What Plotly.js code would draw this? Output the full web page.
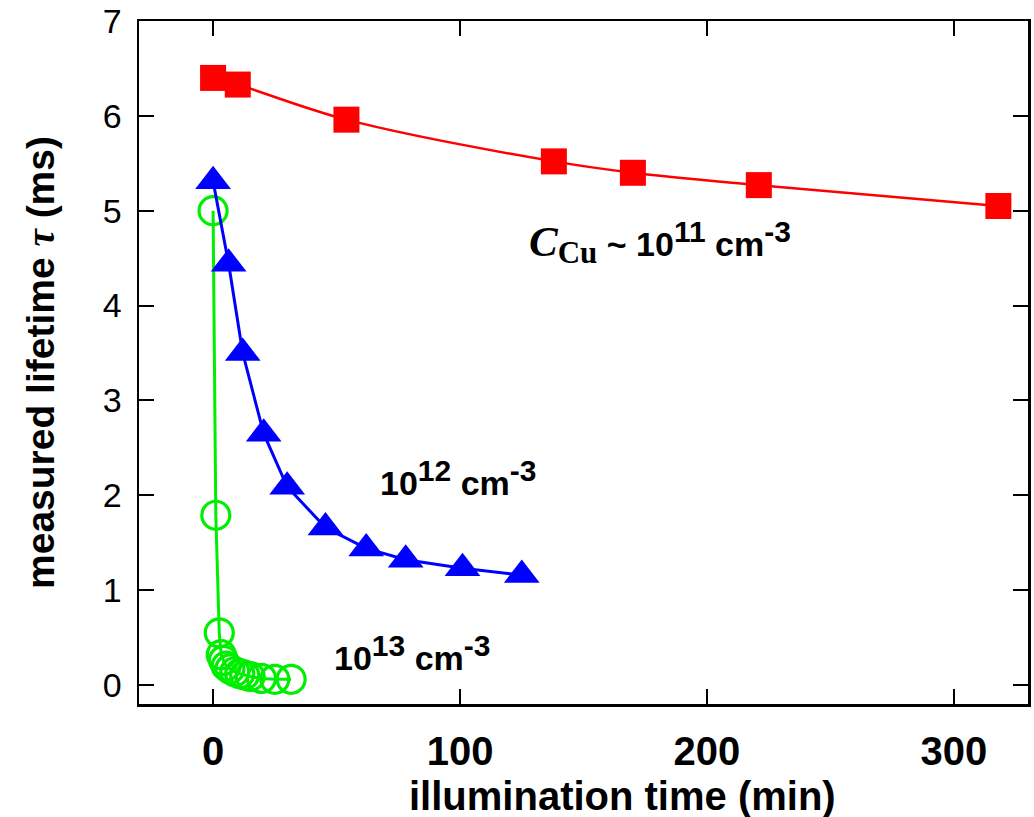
<!DOCTYPE html>
<html>
<head>
<meta charset="utf-8">
<script src="https://cdn.plot.ly/plotly-3.0.1.min.js"></script>
<style>html,body{margin:0;padding:0;background:#fff;}</style>
</head>
<body>
<div id="chart" style="width:1034px;height:817px;"></div>
<script>
// Cu ~ 1e11 cm^-3
const redX = [0, 10, 54, 138, 170, 221, 318];
const redY = [6.40, 6.33, 5.96, 5.52, 5.40, 5.27, 5.05];
// Cu ~ 1e12 cm^-3
const blueX = [0, 6.3, 12, 20.5, 30, 45.5, 62, 78, 101, 125];
const blueY = [5.31, 4.44, 3.50, 2.65, 2.09, 1.66, 1.44, 1.32, 1.23, 1.16];
// Cu ~ 1e13 cm^-3
const greenX = [0, 1.1, 2.5, 3.3, 4.2, 5.3, 6.8, 8.8, 10.8, 12.8, 15, 19.6, 25, 31.6];
const greenY = [5.00, 1.79, 0.55, 0.32, 0.26, 0.20, 0.17, 0.14, 0.12, 0.105, 0.09, 0.07, 0.06, 0.06];

const xTicks = [0, 100, 200, 300];
const yTicks = [0, 1, 2, 3, 4, 5, 6, 7];

const sans = 'Liberation Sans, Arial, sans-serif';

const traces = [
  {x: greenX, y: greenY, mode: 'lines+markers', type: 'scatter',
   line: {color: '#00ee00', width: 3},
   marker: {symbol: 'circle-open', size: 28, color: '#00ee00', line: {width: 3.2, color: '#00ee00'}}},
  {x: blueX, y: blueY, mode: 'lines+markers', type: 'scatter',
   line: {color: '#0000ff', width: 3},
   marker: {symbol: 'triangle-up', size: 31, color: '#0000ff'}},
  {x: redX, y: redY, mode: 'lines+markers', type: 'scatter',
   line: {color: '#ff0000', width: 2.5, shape: 'spline'},
   marker: {symbol: 'square', size: 26, color: '#ff0000'}}
];

const layout = {
  width: 1034, height: 817,
  margin: {l: 139, r: 6, t: 21, b: 113},
  paper_bgcolor: '#ffffff', plot_bgcolor: '#ffffff',
  showlegend: false,
  font: {family: sans, color: '#000'},
  xaxis: {
    range: [-30, 330], tickvals: xTicks, ticktext: xTicks.map(String),
    ticks: 'inside', ticklen: 15, tickwidth: 2, tickcolor: '#000',
    showline: true, linewidth: 2.5, linecolor: '#000', mirror: 'ticks',
    showgrid: false, zeroline: false,
    tickfont: {family: sans, size: 40, color: '#000', weight: 'bold'},
    ticklabelstandoff: 10,
    automargin: false
  },
  yaxis: {
    range: [-0.2, 7], tickvals: yTicks, ticktext: yTicks.map(String),
    ticks: 'inside', ticklen: 15, tickwidth: 2, tickcolor: '#000',
    showline: true, linewidth: 2.5, linecolor: '#000', mirror: 'ticks',
    showgrid: false, zeroline: false,
    tickfont: {family: sans, size: 34, color: '#000'},
    ticklabelstandoff: 8,
    title: {text: '<b>measured lifetime <span style="font-family:Liberation Serif"><i>τ</i></span> (ms)</b>',
            font: {family: sans, size: 39, color: '#000'}, standoff: 36},
    automargin: false
  },
  annotations: [
    {xref: 'paper', yref: 'paper', x: (622 - 139) / 889, y: (704 - 796) / 683,
     xanchor: 'center', yanchor: 'middle', showarrow: false,
     text: '<b>illumination time (min)</b>', font: {family: sans, size: 40, color: '#000'}},
    {xref: 'paper', yref: 'paper', x: (527 - 139) / 889, y: (704 - 243) / 683,
     xanchor: 'left', yanchor: 'middle', showarrow: false,
     text: '<b><span style="font-family:Liberation Serif;font-size:43px"><i>C</i></span><sub><span style="font-family:Liberation Serif;font-size:31px">Cu</span></sub> ~ 10<sup><span style="font-size:30px">11</span></sup> cm<sup><span style="font-size:30px">-3</span></sup></b>',
     font: {family: sans, size: 34, color: '#000'}},
    {xref: 'paper', yref: 'paper', x: (378 - 139) / 889, y: (704 - 478) / 683,
     xanchor: 'left', yanchor: 'middle', showarrow: false,
     text: '<b>10<sup><span style="font-size:30px">12</span></sup> cm<sup><span style="font-size:30px">-3</span></sup></b>',
     font: {family: sans, size: 34, color: '#000'}},
    {xref: 'paper', yref: 'paper', x: (332 - 139) / 889, y: (704 - 653) / 683,
     xanchor: 'left', yanchor: 'middle', showarrow: false,
     text: '<b>10<sup><span style="font-size:30px">13</span></sup> cm<sup><span style="font-size:30px">-3</span></sup></b>',
     font: {family: sans, size: 34, color: '#000'}}
  ]
};

Plotly.newPlot('chart', traces, layout, {staticPlot: true, displayModeBar: false});
</script>
</body>
</html>
